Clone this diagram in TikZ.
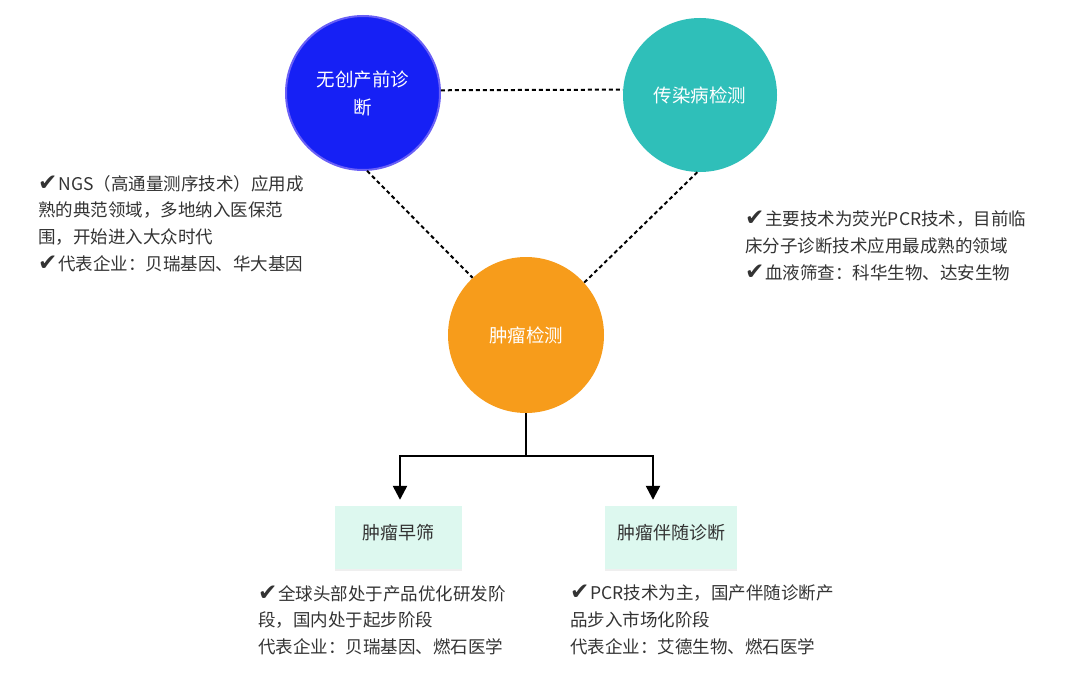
\documentclass[tikz,border=0pt]{standalone}
\usepackage{fontspec}
\setmainfont{Noto Sans CJK SC}
\newfontfamily\symfont{DejaVu Sans}
\usetikzlibrary{arrows.meta,shadows}
\definecolor{cblue}{HTML}{1620F5}
\definecolor{cblueb}{HTML}{6A60F6}
\definecolor{cteal}{HTML}{2FBFB9}
\definecolor{corange}{HTML}{F79C1B}
\definecolor{cbox}{HTML}{DDF8EF}
\definecolor{ctext}{HTML}{333333}
\newcommand{\chk}{{\symfont\fontsize{23}{23}\selectfont ✔}\hspace{1pt}}
\begin{document}
\begin{tikzpicture}[x=1pt,y=-1pt,
  every node/.style={font=\fontsize{17.5}{26.7}\selectfont},
  circ/.style={circle,minimum size=154pt,inner sep=0pt,text=white,align=center,font=\fontsize{18.5}{28}\selectfont},
  dashline/.style={draw=black,line width=2pt,dash pattern=on 4pt off 3pt},
  treeline/.style={draw=black,line width=2.4pt},
  boxstyle/.style={fill=cbox,minimum width=127pt,minimum height=63pt,inner sep=0pt,text=ctext,text height=14pt,text depth=10pt,font=\fontsize{18}{26}\selectfont,drop shadow={opacity=0.12,shadow xshift=0pt,shadow yshift=-2pt}},
  desc/.style={anchor=north west,inner sep=0pt,align=left,text=ctext}
]
\useasboundingbox[fill=white] (0,0) rectangle (1069,677);
\node[circ,fill=cblue,draw=cblueb,line width=2pt] (nipt) at (363,93) {无创产前诊\\断};
\node[circ,fill=cteal] (inf) at (700,95) {传染病检测};
\node[circ,fill=corange,minimum size=156pt] (tum) at (526,335) {肿瘤检测};

\draw[dashline] (nipt.2.2) -- (inf.176.3);
\draw[dashline] (nipt.-87) -- (tum.133);
\draw[dashline] (inf.-92) -- (tum.42);

\node[boxstyle] (scr) at (398.5,537.5) {肿瘤早筛};
\node[boxstyle,minimum width=132pt] (cdx) at (671,537.5) {肿瘤伴随诊断};

\coordinate (j) at (526,456);
\draw[treeline] (tum.south) -- (j);
\draw[treeline,-{Triangle[length=14pt,width=14pt]},shorten >=6pt] (j) -| ([xshift=1.5pt]scr.north);
\draw[treeline,-{Triangle[length=14pt,width=14pt]},shorten >=6pt] (j) -| ([xshift=-18pt]cdx.north);

\node[desc] (t1) at (38,175) {\chk NGS（高通量测序技术）应用成\\熟的典范领域，多地纳入医保范\\围，开始进入大众时代\\\chk 代表企业：贝瑞基因、华大基因};
\node[desc] (t2) at (745,211) {\chk 主要技术为荧光PCR技术，目前临\\床分子诊断技术应用最成熟的领域\\\chk 血液筛查：科华生物、达安生物};
\node[desc] (t3) at (258,585) {\chk 全球头部处于产品优化研发阶\\段，国内处于起步阶段\\代表企业：贝瑞基因、燃石医学};
\node[desc] (t4) at (570,585) {\chk PCR技术为主，国产伴随诊断产\\品步入市场化阶段\\代表企业：艾德生物、燃石医学};
\end{tikzpicture}
\end{document}
